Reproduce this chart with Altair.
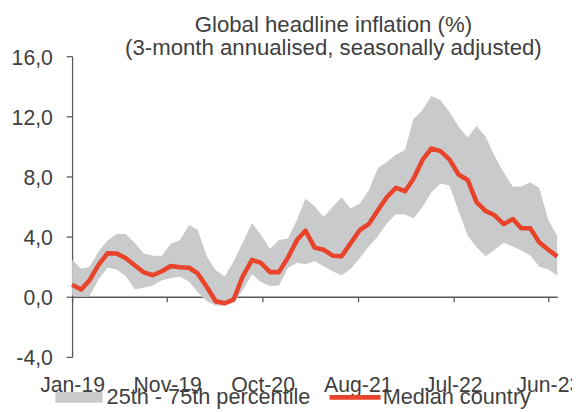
import altair as alt
import pandas as pd

# ---------------- data ----------------
months = pd.date_range("2019-01-01", "2023-07-01", freq="MS")  # Jan-19 .. Jul-23

median = [0.80, 0.48, 1.10, 2.14, 2.89, 2.88, 2.58, 2.10, 1.62, 1.43,
          1.70, 2.05, 1.96, 1.93, 1.55, 0.65, -0.30, -0.43, -0.17, 1.38,
          2.45, 2.25, 1.64, 1.64, 2.62, 3.80, 4.39, 3.27, 3.13, 2.73,
          2.69, 3.57, 4.44, 4.83, 5.75, 6.62, 7.24, 7.02, 7.83, 9.10,
          9.86, 9.69, 9.14, 8.13, 7.77, 6.30, 5.70, 5.42, 4.83, 5.17,
          4.55, 4.55, 3.62, 3.13, 2.69]

p25 = [0.10, 0.00, 0.05, 1.16, 1.93, 1.82, 1.38, 0.50, 0.60, 0.75,
       1.10, 1.23, 1.35, 1.00, 0.30, -0.30, -0.60, -0.60, -0.40, 0.45,
       1.49, 0.98, 0.72, 0.75, 1.93, 2.27, 2.17, 2.36, 2.03, 1.70,
       1.42, 1.86, 2.58, 3.34, 4.00, 4.88, 5.49, 5.47, 5.21, 5.97,
       6.95, 7.54, 7.40, 5.70, 4.05, 3.29, 2.69, 3.13, 3.60, 3.34,
       3.08, 2.75, 2.01, 1.82, 1.42]

p75 = [2.47, 1.86, 2.00, 3.02, 3.74, 4.18, 4.18, 3.60, 2.87, 2.73,
       2.73, 3.52, 3.78, 4.77, 4.46, 2.69, 1.76, 1.35, 2.36, 3.62,
       4.90, 4.12, 3.17, 3.78, 3.87, 5.15, 6.52, 6.02, 5.31, 5.97,
       6.62, 5.86, 6.21, 7.06, 8.57, 8.97, 9.45, 9.77, 11.80, 12.42,
       13.36, 13.07, 12.31, 11.32, 10.60, 11.35, 10.64, 9.36, 8.26, 7.32,
       7.33, 7.61, 7.24, 5.10, 4.05]

tick_dates = [(2019, 1, 1), (2019, 11, 19), (2020, 10, 7),
              (2021, 8, 25), (2022, 7, 14), (2023, 6, 1)]
x_domain = [(2019, 1, 1), (2023, 7, 1)]
y_ticks = [-4, 0, 4, 8, 12, 16]
legend_labels = ["25th - 75th percentile", "Median country"]
title_lines = ["Global headline inflation (%)",
               "(3-month annualised, seasonally adjusted)"]

# ---------------- styles ----------------
FONT = "Liberation Sans"
TXT = "#404040"
AX = "#5a5a5a"
GRAY = "#c9cacc"
RED = "#e8432b"
W, H = 492, 305
YMIN, YMAX = -4, 16

df = pd.DataFrame({"date": months, "median": median, "p25": p25, "p75": p75})


def dt(t):
    return alt.DateTime(year=t[0], month=t[1], date=t[2])


x_enc = alt.X(
    "date:T",
    scale=alt.Scale(domain=[dt(t) for t in x_domain]),
    axis=alt.Axis(
        values=[dt(t) for t in tick_dates],
        format="%b-%y",
        offset=-H * (0 - YMIN) / (YMAX - YMIN),
        domainColor=AX, domainWidth=1.3,
        tickColor=AX, tickWidth=1.3, tickSize=5,
        labelPadding=74, labelFont=FONT, labelFontSize=21.5,
        labelColor=TXT, labelFlush=False, labelOverlap=False,
        grid=False, title=None,
    ),
)

y_axis = alt.Axis(
    values=y_ticks,
    labelExpr="(datum.value < 0 ? '-' : '') + replace(format(abs(datum.value), '.1f'), '.', ',')",
    domainColor=AX, domainWidth=1.3,
    tickColor=AX, tickWidth=1.3, tickSize=6,
    labelPadding=14, labelOffset=2,
    labelFont=FONT, labelFontSize=21.5, labelColor=TXT,
    grid=False, title=None,
)

band = alt.Chart(df).mark_area(color=GRAY).encode(
    x=x_enc,
    y=alt.Y("p25:Q", scale=alt.Scale(domain=[YMIN, YMAX], nice=False), axis=y_axis),
    y2="p75:Q",
)

line = alt.Chart(df).mark_line(color=RED, strokeWidth=4.6, strokeJoin="round").encode(
    x=x_enc,
    y=alt.Y("median:Q"),
)

leg = alt.Legend(
    title=None, orient="none", legendX=-17, legendY=322,
    direction="horizontal", symbolSize=2304, symbolStrokeWidth=0,
    labelFont=FONT, labelFontSize=22, labelColor=TXT, labelLimit=400,
    labelOffset=4, columnPadding=19, padding=0, symbolOpacity=1,
)
legend_df = pd.DataFrame({"series": legend_labels})
legend_layer = alt.Chart(legend_df).transform_filter("false").mark_point(filled=True).encode(
    color=alt.Color("series:N", scale=alt.Scale(domain=legend_labels, range=[GRAY, RED]), legend=leg),
    shape=alt.Shape("series:N", scale=alt.Scale(domain=legend_labels, range=[
        "M-1,-0.23H1V0.23H-1Z",
        "M-1.08,-0.1H1.08V0.1H-1.08Z",
    ]), legend=leg),
)

chart = alt.layer(band, line, legend_layer).properties(
    width=W, height=H,
    padding={"left": 65, "top": 46, "right": 15, "bottom": 53},
    autosize=alt.AutoSizeParams(type="none"),
    title=alt.Title(title_lines, font=FONT, fontSize=22.5, fontWeight="normal",
                    color=TXT, lineHeight=23, anchor="middle", dx=19, dy=12, offset=0),
).configure_view(stroke=None)

chart.save("out.html", embed_options={"renderer": "svg", "actions": False})
